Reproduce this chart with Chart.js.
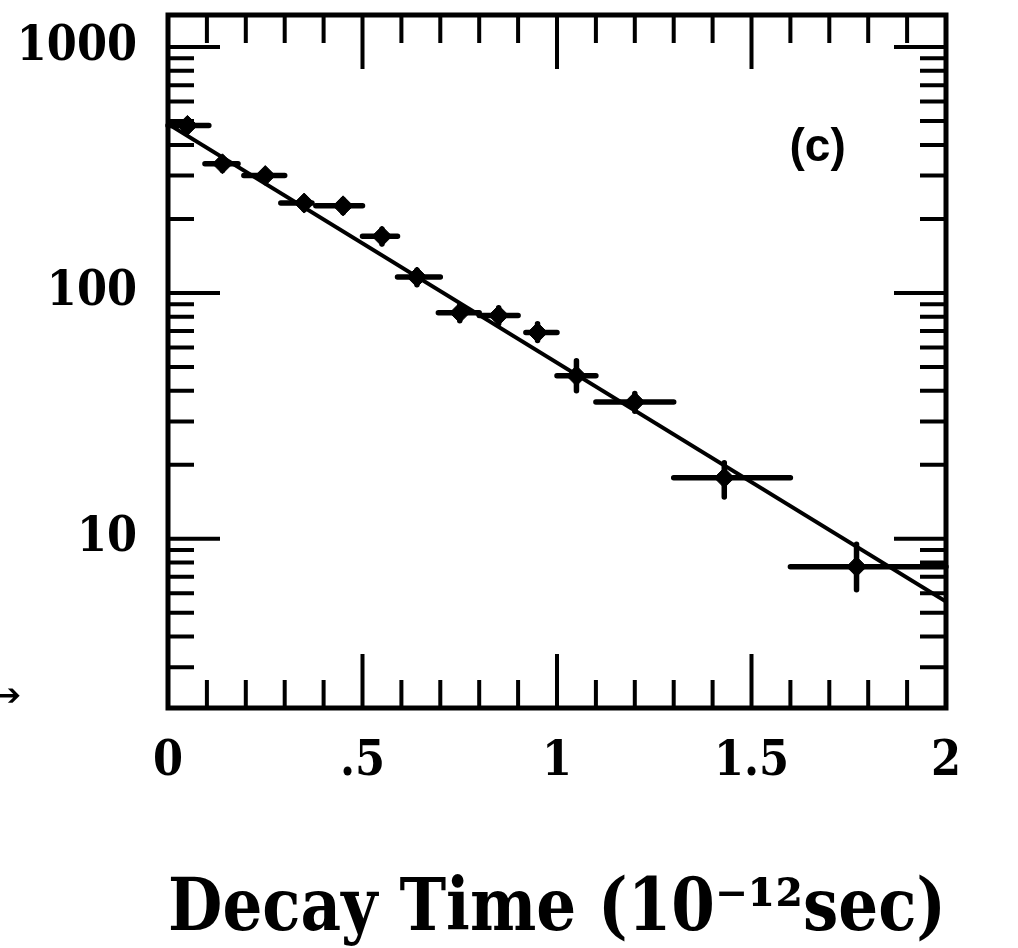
<!DOCTYPE html>
<html>
<head>
<meta charset="utf-8">
<script src="https://cdn.jsdelivr.net/npm/chart.js@4/dist/chart.umd.min.js"></script>
<style>
  html, body { margin: 0; padding: 0; background: #fff; }
  #wrap { width: 1018px; height: 948px; }
</style>
</head>
<body>
<div id="wrap"><canvas id="c" width="1018" height="948"></canvas></div>
<script>
// ---- data ----
const xCenters = [0.05, 0.14, 0.25, 0.35, 0.45, 0.55, 0.64, 0.75, 0.85, 0.95, 1.05, 1.2, 1.43, 1.77];
const xLow     = [0.0, 0.095, 0.195, 0.29, 0.38, 0.5, 0.59, 0.695, 0.80, 0.92, 1.0, 1.1, 1.3, 1.6];
const xHigh    = [0.105, 0.18, 0.30, 0.37, 0.5, 0.59, 0.70, 0.80, 0.90, 1.0, 1.10, 1.3, 1.6, 2.0];
const yValues  = [480, 335, 300, 232, 226, 170, 116, 83, 81, 69, 46, 36, 17.7, 7.7];
const yLow     = [455, 315, 285, 218, 212, 158, 108, 77, 75, 64, 40, 33, 14.8, 6.2];
const yHigh    = [505, 355, 315, 245, 240, 182, 124, 89, 87, 75, 53, 39, 20.4, 9.5];

const fitX = [0, 2];
const fitY = [487, 5.55];

const xTickValues = [0, 0.5, 1, 1.5, 2];
const xTickLabels = ['0', '.5', '1', '1.5', '2'];
const yTickValues = [10, 100, 1000];
const yTickLabels = ['10', '100', '1000'];

const xMajorMarks = [0.5, 1, 1.5];
const xMinorMarks = [0.1, 0.2, 0.3, 0.4, 0.6, 0.7, 0.8, 0.9, 1.1, 1.2, 1.3, 1.4, 1.6, 1.7, 1.8, 1.9];
const yMajorMarks = [10, 100, 1000];
const yMinorMarks = [3, 4, 5, 6, 7, 8, 9, 20, 30, 40, 50, 60, 70, 80, 90, 200, 300, 400, 500, 600, 700, 800, 900];

const panelLabel = '(c)';
const panelLabelAt = [1.67, 388];
const xTitle = 'Decay Time (10\u207B\u00B9\u00B2sec)';

const serifFam = "'DejaVu Serif Condensed', 'DejaVu Serif', serif";

// ---- plugins ----
const errorBars = {
  id: 'errorBars',
  afterDatasetsDraw(chart) {
    const ctx = chart.ctx, xs = chart.scales.x, ys = chart.scales.y;
    ctx.save();
    ctx.strokeStyle = '#000';
    ctx.lineWidth = 5.5;
    ctx.lineCap = 'round';
    for (let i = 0; i < xCenters.length; i++) {
      const yp = ys.getPixelForValue(yValues[i]);
      const xp = xs.getPixelForValue(xCenters[i]);
      ctx.beginPath();
      ctx.moveTo(xs.getPixelForValue(xLow[i]), yp);
      ctx.lineTo(xs.getPixelForValue(xHigh[i]), yp);
      ctx.moveTo(xp, ys.getPixelForValue(yLow[i]));
      ctx.lineTo(xp, ys.getPixelForValue(yHigh[i]));
      ctx.stroke();
    }
    ctx.restore();
  }
};

const frameTicks = {
  id: 'frameTicks',
  afterDraw(chart) {
    const ctx = chart.ctx, a = chart.chartArea, xs = chart.scales.x, ys = chart.scales.y;
    ctx.save();
    ctx.strokeStyle = '#000';
    ctx.lineWidth = 5;
    ctx.lineCap = 'butt';
    ctx.strokeRect(a.left, a.top, a.right - a.left, a.bottom - a.top);
    ctx.lineWidth = 4;
    ctx.beginPath();
    const xm = (v, len) => {
      const p = xs.getPixelForValue(v);
      ctx.moveTo(p, a.bottom); ctx.lineTo(p, a.bottom - len);
      ctx.moveTo(p, a.top); ctx.lineTo(p, a.top + len);
    };
    const ym = (v, len) => {
      const p = ys.getPixelForValue(v);
      ctx.moveTo(a.left, p); ctx.lineTo(a.left + len, p);
      ctx.moveTo(a.right, p); ctx.lineTo(a.right - len, p);
    };
    xMajorMarks.forEach(v => xm(v, 54));
    xMinorMarks.forEach(v => xm(v, 28));
    yMajorMarks.forEach(v => ym(v, 52));
    yMinorMarks.forEach(v => ym(v, 26));
    ctx.stroke();

    // panel label
    ctx.fillStyle = '#000';
    ctx.font = "bold 46px 'Liberation Sans', Arial, sans-serif";
    ctx.textAlign = 'center';
    ctx.textBaseline = 'middle';
    ctx.fillText(panelLabel, xs.getPixelForValue(panelLabelAt[0]), ys.getPixelForValue(panelLabelAt[1]));

    // stray arrow at the left edge
    ctx.font = "bold 30px 'DejaVu Sans', sans-serif";
    ctx.textAlign = 'left';
    ctx.fillText('\u2794', -4, 697);
    ctx.restore();
  }
};

new Chart(document.getElementById('c'), {
  type: 'scatter',
  data: {
    datasets: [
      {
        type: 'line',
        data: fitX.map((x, i) => ({ x: x, y: fitY[i] })),
        borderColor: '#000',
        borderWidth: 4,
        pointRadius: 0,
        fill: false,
        tension: 0
      },
      {
        data: xCenters.map((x, i) => ({ x: x, y: yValues[i] })),
        pointStyle: 'rectRot',
        pointRadius: 10,
        pointBackgroundColor: '#000',
        pointBorderColor: '#000',
        borderWidth: 1
      }
    ]
  },
  options: {
    responsive: false,
    animation: false,
    devicePixelRatio: 1,
    layout: { padding: { left: 0, right: 72, top: 15, bottom: 0 } },
    plugins: { legend: { display: false }, tooltip: { enabled: false }, title: { display: false } },
    scales: {
      x: {
        type: 'linear',
        min: 0, max: 2,
        grid: { display: false, drawTicks: false },
        border: { display: false },
        afterBuildTicks: s => { s.ticks = xTickValues.map(v => ({ value: v })); },
        afterFit: s => { s.height = 240; s.paddingLeft = 0; s.paddingRight = 0; },
        ticks: {
          autoSkip: false,
          maxRotation: 0,
          padding: 26,
          color: '#000',
          font: { family: serifFam, size: 48, weight: 'bold' },
          callback: (v) => { const k = xTickValues.indexOf(v); return k >= 0 ? xTickLabels[k] : ''; }
        },
        title: {
          display: true,
          text: xTitle,
          color: '#000',
          font: { family: serifFam, size: 72, weight: 'bold' },
          padding: { top: 0, bottom: -6 }
        }
      },
      y: {
        type: 'logarithmic',
        min: 2.05, max: 1350,
        grid: { display: false, drawTicks: false },
        border: { display: false },
        afterBuildTicks: s => { s.ticks = yTickValues.map(v => ({ value: v })); },
        afterFit: s => { s.width = 168; s.paddingTop = 0; s.paddingBottom = 0; },
        ticks: {
          autoSkip: false,
          padding: 31,
          color: '#000',
          font: { family: serifFam, size: 48, weight: 'bold' },
          callback: (v) => { const k = yTickValues.indexOf(v); return k >= 0 ? yTickLabels[k] : ''; }
        }
      }
    }
  },
  plugins: [errorBars, frameTicks]
});
</script>
</body>
</html>
